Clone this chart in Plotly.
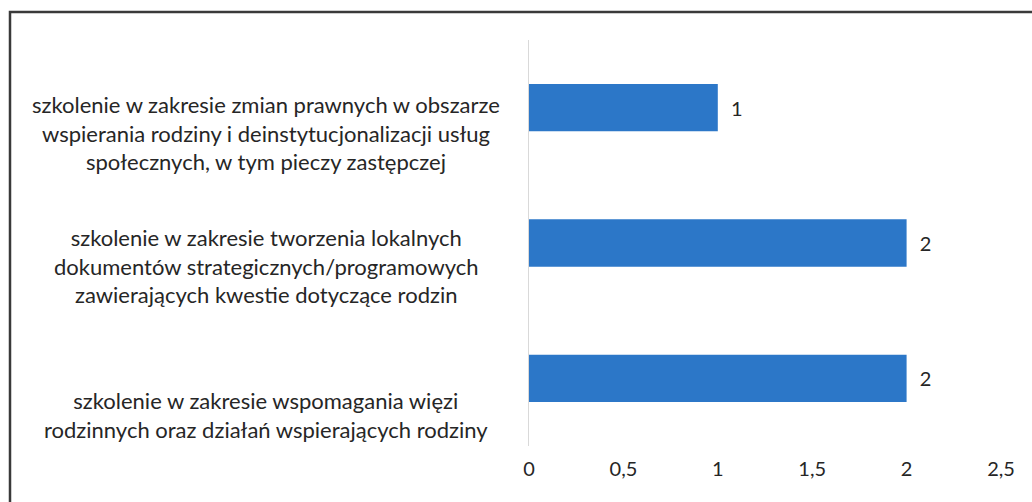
import plotly.graph_objects as go

# data
categories = [
    "szkolenie w zakresie zmian prawnych w obszarze<br>wspierania rodziny i deinstytucjonalizacji usług<br>społecznych, w tym pieczy zastępczej",
    "szkolenie w zakresie tworzenia lokalnych<br>dokumentów strategicznych/programowych<br>zawierających kwestie dotyczące rodzin",
    "szkolenie w zakresie wspomagania więzi<br>rodzinnych oraz działań wspierających rodziny",
]
values = [1, 2, 2]
tick_vals = [0, 0.5, 1, 1.5, 2, 2.5]
tick_text = ["0", "0,5", "1", "1,5", "2", "2,5"]

BAR = "#2c77c8"
TXT = "#262626"
FONT = "Lato"

W, H = 1032, 502
L, R, T, B = 529, 31, 40, 56
pw, ph = W - L - R, H - T - B


def px_x(p):
    return (p - L) / pw


def px_y(p):
    return (H - B - p) / ph


fig = go.Figure(go.Bar(
    x=values,
    y=categories,
    orientation="h",
    marker=dict(color=BAR, line=dict(width=0)),
    width=0.35,
    text=values,
    texttemplate="  %{x}",
    textposition="outside",
    textfont=dict(size=20, color=TXT, family=FONT),
    cliponaxis=False,
    hoverinfo="skip",
))

# category labels as centred annotations (plotly tick labels can't centre lines)
label_shift = [-25, -23, -37]
for cat, dy in zip(categories, label_shift):
    fig.add_annotation(
        x=px_x(266), xref="paper", xanchor="center",
        y=cat, yref="y", yshift=dy,
        text=cat, showarrow=False, align="center",
        font=dict(size=22, color=TXT, family=FONT),
    )

# outer frame like the pasted chart (right and bottom edges fall off the crop)
fig.add_shape(type="rect", xref="paper", yref="paper",
              x0=px_x(10), x1=px_x(1100), y0=px_y(540), y1=px_y(12),
              line=dict(color="#3a3a3a", width=2.5), layer="below")

fig.update_layout(
    width=W, height=H,
    margin=dict(l=L, r=R, t=T, b=B, autoexpand=False),
    plot_bgcolor="white",
    paper_bgcolor="white",
    showlegend=False,
    font=dict(family=FONT, color=TXT),
    xaxis=dict(range=[0, 2.5], tickvals=tick_vals, ticktext=tick_text,
               showgrid=False, zeroline=False, showline=False,
               automargin=False,
               ticks="", ticklabelstandoff=9,
               tickfont=dict(size=20, color=TXT, family=FONT)),
    yaxis=dict(range=[2.5, -0.5], showticklabels=False, ticks="",
               automargin=False,
               showgrid=False, zeroline=False,
               showline=True, linecolor="#d9d9d9", linewidth=1),
)

fig.write_html("out.html", config={"displayModeBar": False},
               post_script="document.body.style.margin='0';")
